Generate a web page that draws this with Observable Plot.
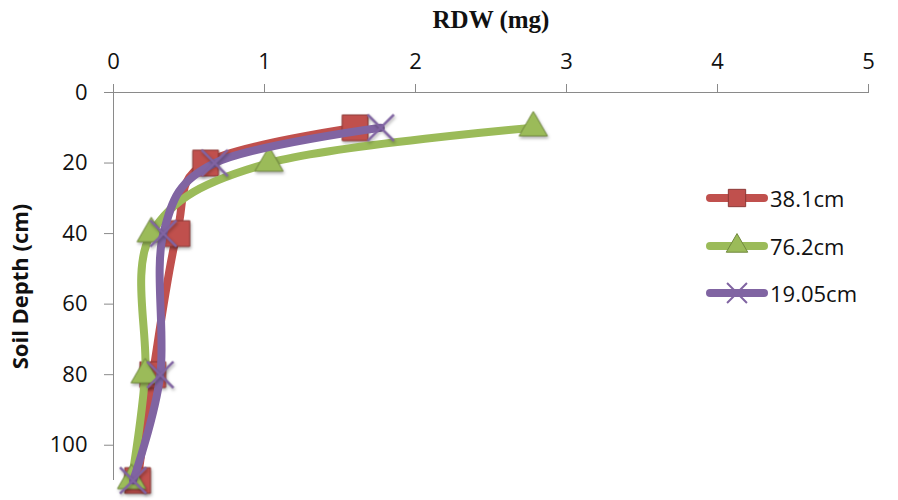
<!DOCTYPE html>
<html>
<head>
<meta charset="utf-8">
<script src="https://cdn.jsdelivr.net/npm/d3@7"></script>
<script src="https://cdn.jsdelivr.net/npm/@observablehq/plot@0.6"></script>
<style>
  html, body { margin: 0; padding: 0; background: #fff; }
  #wrap { position: relative; width: 898px; height: 500px; font-family: "Open Sans", Lato, sans-serif; }
  #wrap svg.plot { font-family: "Open Sans", Lato, sans-serif; }
  g[aria-label="x-axis tick"], g[aria-label="y-axis tick"] { stroke: #8a8a8a; stroke-opacity: 1; }
  g[aria-label="x-axis tick label"], g[aria-label="y-axis tick label"] { font-size: 22px; fill: #111; }
  g[aria-label="x-axis label"] { font-family: "Liberation Serif", "DejaVu Serif", serif; font-weight: bold; font-size: 25px; fill: #111; }
  g[aria-label="y-axis label"] { font-weight: bold; font-size: 22px; fill: #111; }
  #legend { position: absolute; left: 706px; top: 183px; font-family: "Open Sans", Lato, sans-serif; font-size: 22px; color: #111; }
  #legend .item { display: flex; align-items: center; height: 30px; margin-bottom: 17.5px; }
  #legend .item span { margin-left: 2px; }
  .mk { filter: drop-shadow(1px 2px 1.5px rgba(0,0,0,0.3)); }
</style>
</head>
<body>
<div id="wrap"></div>
<script>
// Data
const depths = [10, 20, 40, 80, 110];
const series = ["38.1cm", "76.2cm", "19.05cm"];
const rdw38 = [1.60, 0.61, 0.42, 0.26, 0.16];
const rdw76 = [2.78, 1.03, 0.25, 0.21, 0.12];
const rdw19 = [1.77, 0.67, 0.33, 0.31, 0.13];
const xTicks = [0, 1, 2, 3, 4, 5];
const yTicks = [0, 20, 40, 60, 80, 100];

const colors = { "38.1cm": "#C0504D", "76.2cm": "#9BBB59", "19.05cm": "#8064A2" };
const edge = { "38.1cm": "#8C3836", "76.2cm": "#71893F", "19.05cm": "#8064A2" };
const symbols = { "38.1cm": "square", "76.2cm": "triangle", "19.05cm": "times" };
const values = { "38.1cm": rdw38, "76.2cm": rdw76, "19.05cm": rdw19 };

const rows = s => depths.map((d, i) => ({ series: s, depth: d, rdw: values[s][i] }));

const marks = [
  Plot.ruleY([0], { stroke: "#8a8a8a" }),
  Plot.ruleX([0], { stroke: "#8a8a8a" }),
  Plot.axisX({ anchor: "top", ticks: xTicks, tickFormat: d3.format("d"), tickSize: 9, tickPadding: 15, label: "RDW (mg)", labelAnchor: "center", labelOffset: 82, labelArrow: "none" }),
  Plot.axisY({ ticks: yTicks, tickFormat: d3.format("d"), tickSize: 9, tickPadding: 17, label: "Soil Depth (cm)", labelAnchor: "center", labelOffset: 101, labelArrow: "none" })
];
for (const s of series) {
  const data = rows(s);
  marks.push(Plot.line(data, { x: "rdw", y: "depth", stroke: colors[s], strokeWidth: 8, curve: "cardinal", tension: 0, strokeLinecap: "round", strokeLinejoin: "round" }));
  if (s === "19.05cm") {
    marks.push(Plot.dot(data, { x: "rdw", y: "depth", symbol: "times", r: 12, stroke: colors[s], strokeWidth: 2.5, className: "mk" }));
  } else if (s === "76.2cm") {
    marks.push(Plot.dot(data, { x: "rdw", y: "depth", symbol: "triangle", r: 10.5, fill: colors[s], stroke: edge[s], strokeWidth: 1, className: "mk" }));
  } else {
    marks.push(Plot.dot(data, { x: "rdw", y: "depth", symbol: "square", r: 14.5, fill: colors[s], stroke: edge[s], strokeWidth: 1, className: "mk" }));
  }
}

const chart = Plot.plot({
  width: 898,
  height: 500,
  marginLeft: 113,
  marginRight: 30,
  marginTop: 92,
  marginBottom: 20,
  style: { background: "white", overflow: "visible" },
  x: { domain: [0, 5] },
  y: { domain: [0, 110], reverse: true },
  marks
});
chart.classList.add("plot");
const wrap = document.getElementById("wrap");
wrap.appendChild(chart);

// Legend (HTML overlay with small SVG swatches)
const legend = d3.select(wrap).append("div").attr("id", "legend");
const symMap = { square: d3.symbolSquare, triangle: d3.symbolTriangle, times: d3.symbolTimes };
for (const s of series) {
  const item = legend.append("div").attr("class", "item");
  const svg = item.append("svg").attr("width", 62).attr("height", 30);
  svg.append("line").attr("x1", 4).attr("x2", 58).attr("y1", 15).attr("y2", 15)
    .attr("stroke", colors[s]).attr("stroke-width", 8).attr("stroke-linecap", "round");
  const sym = symbols[s];
  const size = sym === "square" ? 300 : sym === "triangle" ? 200 : 260;
  const p = svg.append("path").attr("d", d3.symbol(symMap[sym], size)()).attr("transform", "translate(31,15)");
  if (sym === "times") p.attr("fill", "none").attr("stroke", colors[s]).attr("stroke-width", 2);
  else p.attr("fill", colors[s]).attr("stroke", edge[s]).attr("stroke-width", 1);
  item.append("span").text(s);
}
</script>
</body>
</html>
